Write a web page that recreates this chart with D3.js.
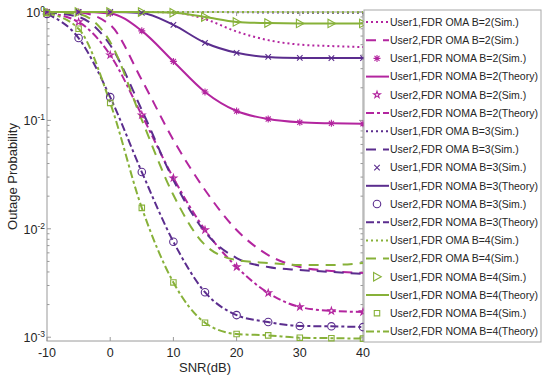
<!DOCTYPE html>
<html><head><meta charset="utf-8">
<script src="https://cdn.jsdelivr.net/npm/d3@7"></script>
<style>
body{margin:0;background:#fff}
svg{display:block}
text{font-family:"Liberation Sans",Arial,Helvetica,sans-serif;fill:#262626}
</style>
</head><body><svg id="c" width="550" height="380"></svg>
<script>
// ---------- data ----------
const snr = [-10,-5,0,5,10,15,20,25,30,35,40];
const xTicks = [-10,0,10,20,30,40];
const yTickExp = [0,-1,-2,-3];

// User1 OMA (Sim.)
const u1OmaB2 = [1,1,1,1,0.99,0.86,0.66,0.55,0.5,0.485,0.475];
const u1OmaB3 = [1,1,1,1,1,1,0.995,0.99,0.985,0.985,0.985];
const u1OmaB4 = [1,1,1,1,1,1,1,0.998,0.997,0.997,0.997];
// User2 OMA (Sim.)
const u2OmaB2 = [1,0.99,0.759,0.236,0.066,0.0228,0.00975,0.00573,0.00445,0.00408,0.00391];
const u2OmaB3 = [0.99,0.9,0.496,0.125,0.0282,0.00934,0.00537,0.00444,0.00417,0.004,0.00383];
const u2OmaB4 = [1,0.958,0.529,0.101,0.0205,0.0071,0.00515,0.00484,0.00464,0.00464,0.00484];
// User1 NOMA (Theory / Sim.)
const u1NomaB2 = [1,1,0.97,0.67,0.35,0.183,0.122,0.103,0.096,0.094,0.093];
const u1NomaB3 = [1,1,1,0.98,0.76,0.52,0.42,0.385,0.377,0.376,0.376];
const u1NomaB4 = [1,1,1,0.998,0.985,0.9,0.81,0.79,0.785,0.785,0.785];
// User2 NOMA (Theory / Sim.)
const u2NomaB2 = [0.979,0.809,0.401,0.112,0.0294,0.00975,0.00445,0.00256,0.0019,0.00175,0.00171];
const u2NomaB3 = [0.96,0.575,0.164,0.0334,0.0076,0.0026,0.0016,0.00138,0.00127,0.00126,0.00124];
const u2NomaB4 = [0.98,0.7,0.145,0.0156,0.0032,0.00136,0.00107,0.00104,0.00099,0.00098,0.00097];

const colB2 = "#b3259f", colB3 = "#5b2d8e", colB4 = "#87b139";

const legendLabels = [
 "User1,FDR OMA B=2(Sim.)","User2,FDR OMA B=2(Sim.)","User1,FDR NOMA B=2(Sim.)","User1,FDR NOMA B=2(Theory)","User2,FDR NOMA B=2(Sim.)","User2,FDR NOMA B=2(Theory)",
 "User1,FDR OMA B=3(Sim.)","User2,FDR OMA B=3(Sim.)","User1,FDR NOMA B=3(Sim.)","User1,FDR NOMA B=3(Theory)","User2,FDR NOMA B=3(Sim.)","User2,FDR NOMA B=3(Theory)",
 "User1,FDR OMA B=4(Sim.)","User2,FDR OMA B=4(Sim.)","User1,FDR NOMA B=4(Sim.)","User1,FDR NOMA B=4(Theory)","User2,FDR NOMA B=4(Sim.)","User2,FDR NOMA B=4(Theory)"
];

// ---------- styles ----------
const DOT = "2,3", DASH = "10,7", DASHDOT = "8,3,3,3";
const groups = [
  {col:colB2, u1o:u1OmaB2, u2o:u2OmaB2, u1n:u1NomaB2, u2n:u2NomaB2, m1:"asterisk", m2:"star"},
  {col:colB3, u1o:u1OmaB3, u2o:u2OmaB3, u1n:u1NomaB3, u2n:u2NomaB3, m1:"x", m2:"circle"},
  {col:colB4, u1o:u1OmaB4, u2o:u2OmaB4, u1n:u1NomaB4, u2n:u2NomaB4, m1:"tri", m2:"square"}
];
const entries = [];
groups.forEach(g=>{
  entries.push({col:g.col, data:g.u1o, dash:DOT});
  entries.push({col:g.col, data:g.u2o, dash:DASH});
  entries.push({col:g.col, data:g.u1n, marker:g.m1});
  entries.push({col:g.col, data:g.u1n, dash:null});
  entries.push({col:g.col, data:g.u2n, marker:g.m2});
  entries.push({col:g.col, data:g.u2n, dash:DASHDOT});
});
entries.forEach((e,i)=>e.label = legendLabels[i]);

// ---------- scales ----------
const svg = d3.select("#c");
const X0=47, X1=363, YT=12, YB=341;
const x = d3.scaleLinear().domain([-10,40]).range([X0,X1]);
const y = d3.scaleLog().domain([Math.pow(10,-3.035),1]).range([YB,YT]);

// ---------- axes ----------
const axCol = "#9a9a9a";
const ax = svg.append("g");
ax.append("rect").attr("x",X0).attr("y",YT).attr("width",X1-X0).attr("height",YB-YT)
  .attr("fill","none").attr("stroke",axCol).attr("stroke-width",1);
xTicks.forEach(t=>{
  ax.append("line").attr("x1",x(t)).attr("x2",x(t)).attr("y1",YB).attr("y2",YB-4).attr("stroke",axCol);
  ax.append("line").attr("x1",x(t)).attr("x2",x(t)).attr("y1",YT).attr("y2",YT+4).attr("stroke",axCol);
  ax.append("text").attr("x",x(t)).attr("y",YB+16).attr("text-anchor","middle")
    .attr("font-size",12.5).text(t);
});
// minor + major log ticks
for(let e=-4;e<=0;e++){
  for(let k=1;k<10;k++){
    const v = k*Math.pow(10,e);
    if(v<y.domain()[0]||v>1.0000001) continue;
    const len = k===1?4:2.5;
    ax.append("line").attr("x1",X0).attr("x2",X0+len).attr("y1",y(v)).attr("y2",y(v)).attr("stroke",axCol);
    ax.append("line").attr("x1",X1).attr("x2",X1-len).attr("y1",y(v)).attr("y2",y(v)).attr("stroke",axCol);
  }
}
yTickExp.forEach(ex=>{
  const t = ax.append("text").attr("x",45).attr("y",y(Math.pow(10,ex))+5)
    .attr("text-anchor","end").attr("font-size",12.5);
  t.append("tspan").text("10");
  t.append("tspan").attr("dy",-5).attr("font-size",8.5).text(ex);
});
svg.append("text").attr("x",205).attr("y",372).attr("text-anchor","middle").attr("font-size",13).text("SNR(dB)");
svg.append("text").attr("transform",`translate(17,${(YT+YB)/2}) rotate(-90)`).attr("text-anchor","middle")
  .attr("font-size",13).text("Outage Probability");

// ---------- markers ----------
function markerPath(type, s){
  const h = s/2;
  switch(type){
    case "x": return `M${-h},${-h}L${h},${h}M${-h},${h}L${h},${-h}`;
    case "asterisk": { const d=h*0.72; return `M${-h},0L${h},0M0,${-h}L0,${h}M${-d},${-d}L${d},${d}M${-d},${d}L${d},${-d}`; }
    case "circle": return d3.symbol(d3.symbolCircle, s*s*0.785)();
    case "square": return d3.symbol(d3.symbolSquare, s*s*0.7)();
    case "star": return d3.symbol(d3.symbolStar, s*s*0.22)();
    case "tri": return `M${-h*0.8},${-h}L${h},0L${-h*0.8},${h}Z`;
  }
}
const mSize = {x:5.5, asterisk:7, circle:7.5, square:6.5, star:8, tri:8.5};

// ---------- lines ----------
const line = d3.line().x((d,i)=>x(snr[i])).y(d=>y(d)).curve(d3.curveMonotoneX);
const plot = svg.append("g");
entries.filter(e=>!e.marker).forEach(e=>{
  plot.append("path").attr("d",line(e.data)).attr("fill","none").attr("stroke",e.col)
    .attr("stroke-width",2).attr("stroke-dasharray",e.dash||null);
});
entries.filter(e=>e.marker).forEach(e=>{
  plot.selectAll(null).data(e.data).enter().append("path")
    .attr("transform",(d,i)=>`translate(${x(snr[i])},${y(d)})`)
    .attr("d",markerPath(e.marker,mSize[e.marker])).attr("fill","none")
    .attr("stroke",e.col).attr("stroke-width",1.1);
});

// ---------- legend ----------
const LX=364, LY=10, LW=177, LH=332;
const lg = svg.append("g");
lg.append("rect").attr("x",LX).attr("y",LY).attr("width",LW).attr("height",LH)
  .attr("fill","#fff").attr("stroke","#a8a8a8").attr("stroke-width",1);
entries.forEach((e,i)=>{
  const cy = 22 + i*18.2;
  if(e.marker){
    lg.append("path").attr("transform",`translate(377,${cy})`).attr("d",markerPath(e.marker,mSize[e.marker]))
      .attr("fill","none").attr("stroke",e.col).attr("stroke-width",1.1);
  } else {
    lg.append("line").attr("x1",366).attr("x2",389).attr("y1",cy).attr("y2",cy)
      .attr("stroke",e.col).attr("stroke-width",2).attr("stroke-dasharray",e.dash||null);
  }
  lg.append("text").attr("x",390).attr("y",cy+3.8).attr("font-size",10.5).text(e.label);
});
</script>
</body></html>
